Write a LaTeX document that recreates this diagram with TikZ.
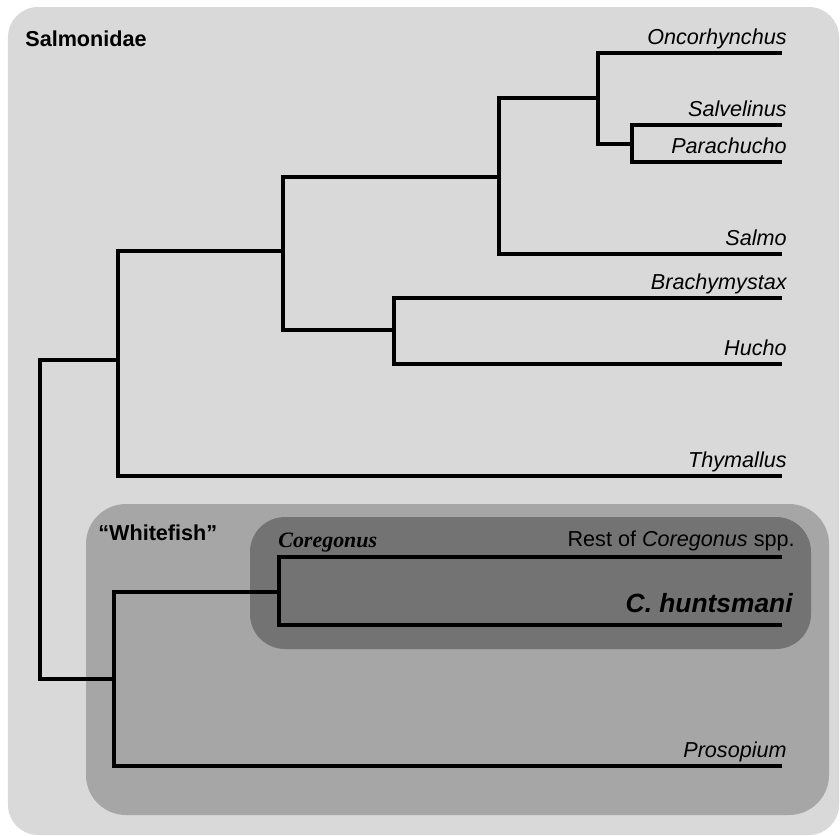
\documentclass[tikz,border=0pt]{standalone}
\usepackage{fontspec}
\setmainfont{Liberation Sans}
\newfontfamily\timesfont{Liberation Serif}
\usepackage{xcolor}
\definecolor{salmbg}{HTML}{D9D9D9}
\definecolor{whitebg}{HTML}{A6A6A6}
\definecolor{corebg}{HTML}{737373}

\begin{document}
\begin{tikzpicture}[x=0.02cm,y=-0.02cm,
		branch/.style={line width=2.6pt},
		taxon/.style={anchor=base east,inner sep=0pt,xshift=0.1cm,yshift=0.17cm,
			font=\fontsize{12.3}{14}\selectfont\itshape},
		group/.style={anchor=base west,inner sep=0pt,
			font=\fontsize{12.3}{14}\selectfont\bfseries}]
	
	\useasboundingbox (0,0) rectangle (840,836);
	
	% shaded groups
	\fill[salmbg, rounded corners=0.6cm] (8,7) rectangle (839,835);
	\fill[whitebg, rounded corners=0.8cm] (86,504) rectangle (829,815);
	\fill[corebg, rounded corners=0.7cm] (250,517) rectangle (811,649);
	
	% inner nodes
	\coordinate (nRoot) at (40,520);
	\coordinate (nSal) at (118,360);
	\coordinate (nSalmA) at (283,251);
	\coordinate (nSalmB) at (499,177);
	\coordinate (nOnc) at (598,98);
	\coordinate (nSalv) at (632,144);
	\coordinate (nBrach) at (394,330);
	\coordinate (nWhite) at (114,679);
	\coordinate (nCore) at (279,592);
	
	% tips
	\coordinate (tOnc) at (782,53);
	\coordinate (tSalv) at (782,125);
	\coordinate (tPara) at (782,162);
	\coordinate (tSalmo) at (782,254);
	\coordinate (tBrach) at (782,298);
	\coordinate (tHucho) at (782,364);
	\coordinate (tThy) at (782,476);
	\coordinate (tRest) at (782,557);
	\coordinate (tHunt) at (782,625);
	\coordinate (tPros) at (782,766);
	
	% branches
	\draw[branch] (nSal) -| (nRoot) |- (nWhite);
	\draw[branch] (nSalmA) -| (nSal) |- (tThy);
	\draw[branch] (nSalmB) -| (nSalmA) |- (nBrach);
	\draw[branch] (nOnc) -| (nSalmB) |- (tSalmo);
	\draw[branch] (tOnc) -| (nOnc) |- (nSalv);
	\draw[branch] (tSalv) -| (nSalv) |- (tPara);
	\draw[branch] (tBrach) -| (nBrach) |- (tHucho);
	\draw[branch] (nCore) -| (nWhite) |- (tPros);
	\draw[branch] (tRest) -| (nCore) |- (tHunt);
	
	% taxon labels
	\node[taxon] (lOnc) at (tOnc) {Oncorhynchus};
	\node[taxon] (lSalv) at (tSalv) {Salvelinus};
	\node[taxon] (lPara) at (tPara) {Parachucho};
	\node[taxon] (lSalmo) at (tSalmo) {Salmo};
	\node[taxon] (lBrach) at (tBrach) {Brachymystax};
	\node[taxon] (lHucho) at (tHucho) {Hucho};
	\node[taxon] (lThy) at (tThy) {Thymallus};
	\node[taxon, font=\fontsize{12.3}{14}\selectfont, xshift=0.16cm, yshift=0.05cm] (lRest) at (tRest) {Rest of \textit{Coregonus} spp.};
	\node[taxon, font=\fontsize{15}{17}\selectfont\bfseries\itshape, xshift=0.12cm, yshift=0.09cm] (lHunt) at (tHunt) {C. huntsmani};
	\node[taxon] (lPros) at (tPros) {Prosopium};
	
	% group labels
	\node[group] (gSalm) at (25,46) {Salmonidae};
	\node[group] (gWhite) at (98,540) {“Whitefish”};
	\node[group, font=\fontsize{12.5}{14}\selectfont\timesfont\bfseries\itshape] (gCore) at (278,547) {Coregonus};
	
\end{tikzpicture}
\end{document}
